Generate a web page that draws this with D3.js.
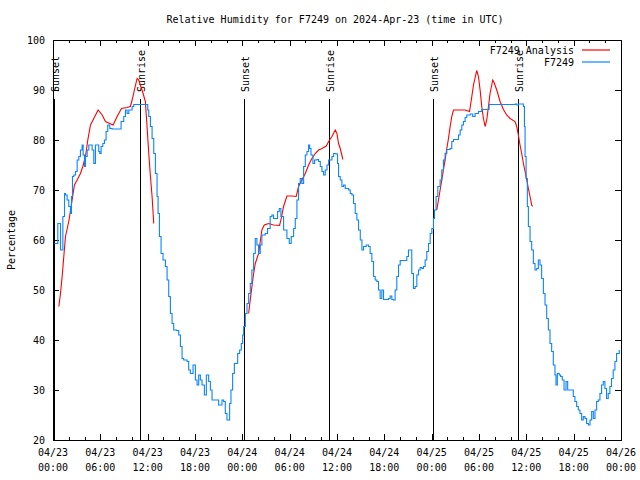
<!DOCTYPE html>
<html><head><meta charset="utf-8">
<script src="https://cdn.jsdelivr.net/npm/d3@7"></script>
<style>
body{margin:0;background:#fff;}
svg{display:block;}
text{font-family:"DejaVu Sans Mono",monospace;font-size:10px;fill:#000;}
</style></head>
<body>
<svg id="c" width="640" height="480"></svg>
<script>
const titleText = "Relative Humidity for F7249 on 2024-Apr-23 (time in UTC)";
const yLabel = "Percentage";
const startDate = Date.UTC(2024,3,23,0,0);
const endDate = Date.UTC(2024,3,26,0,0);
const yTicks = [20,30,40,50,60,70,80,90,100];
const seriesNames = ["F7249 Analysis","F7249"];
const seriesColors = ["#ff0000","#0a84ff"];
const sunLabels = ["Sunset","Sunrise","Sunset","Sunrise","Sunset","Sunrise"];
const sunHours = [0.15,10.99,24.17,34.93,48.23,58.97];

// F7249 observations (hours since 04/23 00:00 UTC, %)
const obsHours = [0.19,0.61,0.95,1.25,1.46,1.58,1.79,2.0,2.22,2.34,2.47,2.64,2.85,3.06,3.27,3.48,3.69,3.82,3.99,4.12,4.33,4.54,4.75,4.96,5.17,5.38,5.59,5.8,5.93,6.1,6.31,6.52,6.73,6.94,7.2,7.49,8.46,8.63,8.97,9.18,9.39,9.61,10.03,10.24,11.92,12.01,12.14,12.35,12.56,12.77,12.98,13.19,13.32,13.49,13.7,13.95,14.25,14.46,14.67,14.88,15.09,15.3,15.64,15.94,16.15,16.36,16.57,16.99,17.2,17.41,17.75,18.05,18.26,18.47,18.68,18.89,19.19,19.44,19.73,19.95,20.16,20.58,21.0,21.42,21.63,21.84,22.05,22.26,22.39,22.56,22.77,22.99,23.24,23.41,23.66,23.87,24.04,24.17,24.38,24.59,24.8,25.01,25.21,25.43,25.64,25.85,26.06,26.27,26.48,26.9,27.2,27.53,27.75,27.96,28.17,28.47,28.68,28.89,29.23,29.65,29.95,30.2,30.5,30.71,30.92,31.13,31.34,31.55,31.77,31.98,32.19,32.4,32.53,32.7,32.95,33.16,33.46,33.67,33.88,34.09,34.3,34.51,34.73,34.94,35.15,35.36,35.57,35.86,36.07,36.2,36.41,36.62,36.83,37.04,37.47,37.68,37.89,38.1,38.31,38.52,38.73,38.95,39.16,39.37,39.7,40.0,40.2,40.42,40.63,40.84,41.05,41.26,41.47,41.68,41.9,42.32,42.53,42.74,42.95,43.16,43.37,43.58,43.8,44.01,44.64,44.85,45.06,45.27,45.48,45.69,45.9,46.12,46.33,46.54,46.75,46.96,47.17,47.38,47.6,47.81,48.02,48.23,48.35,48.56,48.78,49.07,49.28,49.49,49.7,49.92,50.34,50.55,50.76,51.18,51.4,51.61,51.82,52.03,52.24,52.45,52.88,53.2,53.5,53.93,54.35,54.98,55.28,58.58,58.79,59.0,59.42,59.63,59.76,59.84,59.97,60.13,60.26,60.47,60.68,60.89,61.1,61.31,61.52,61.73,61.94,62.16,62.37,62.58,62.79,63.0,63.21,63.42,63.63,63.76,63.93,64.18,64.35,64.56,64.78,65.03,65.24,65.74,65.95,66.16,66.38,66.59,66.8,67.01,67.22,67.43,67.64,67.86,68.07,68.28,68.49,68.7,68.91,69.12,69.33,69.54,69.75,69.96,70.17,70.38,70.59,70.8,71.01,71.23,71.44,71.78];
const obsValues = [59.3,63.3,58,64.7,69.3,69,68,66.7,65.3,68.7,72.7,73,73.7,76,76.7,78,79,77,74.7,76.7,78,79,79,78,75.3,79,79,77.7,77.3,78.7,79.3,80,81.7,83,82.3,82.2,82.2,83.7,84.7,86,85.3,86,86.7,87.1,87.1,86,84.7,82.7,80.3,77.3,73.3,68.7,65.3,60.7,57.3,56,54.7,52,48.7,45.3,43.3,42,41.9,41,38.7,36.3,36,35.7,34,33.3,35,32,31,33,32,31,29,33,31.7,30,28,28,27,28,27.7,25.3,24,24,27.3,30,33.3,35.3,35.3,37.3,38,39.3,41,42.7,45.3,47.3,49.3,51.3,54,57.3,60.3,59,57.3,59,61,61.3,62.3,64.7,65,64.3,64.3,65.7,66.3,64.7,62,60.3,59.3,60.7,62.3,64.3,68,71.3,72.3,71.3,74.7,77,77.7,79,78.3,77,75.3,76,76.1,75.7,74.7,73.7,73,74,75,76,76,76.7,77.3,77.2,75.3,72.7,72,70.7,71,70.3,70,69.3,69,67.3,65.3,64,62,60,58,58.7,59,58.7,57.3,55.7,52.7,52,51.7,50,48.3,50,48.1,48.1,48.3,48.8,48.1,48,50,52.7,55,55.9,55.9,56.7,58,58,53.3,50.3,50.7,53,54,54.5,54.3,54.7,56,57.7,59.3,61.3,62.3,64.3,66,68.7,70.7,72,74,76,77.3,78.1,78.3,79.7,80.1,80.1,81,82,83,83.7,84.5,85,85.2,84.7,85.3,85.7,86.1,86.1,87.1,87.2,87,87.2,87.2,86.7,82.7,76.7,72.3,66.7,62.7,59.7,58,55.3,54,54.3,56,55,52.3,49.3,47,44.3,42,39.3,37.7,35,33,31,33.3,33,32.7,32,30,31.7,30,30,28.7,27.7,26.7,26,25.3,24,24.7,24.3,23.3,23,24,25.7,24.3,26,27.7,28,29.3,31,31.7,30.3,28.3,29.3,30.7,32.3,34,35.7,37.3,38];

// F7249 Analysis (null = gap)
const anaHours = [0.74,0.95,1.16,1.37,1.58,2.0,2.3,2.55,2.72,3.06,3.48,3.78,4.12,4.41,4.75,5.17,5.72,6.23,6.65,7.2,7.62,8.13,8.68,9.39,9.81,10.03,10.32,10.66,10.87,11.08,11.42,11.71,11.92,12.14,12.35,12.56,12.77,
 18,
 24.8,25.0,25.22,25.43,25.64,26.06,26.27,26.48,26.78,27.33,27.96,28.72,28.89,29.23,29.65,30.28,30.83,31.13,31.55,31.98,32.4,32.82,33.24,33.67,34.09,34.64,34.94,35.36,35.78,35.99,36.2,36.41,36.75,
 42,
 48.65,48.86,49.07,49.28,49.49,49.7,49.92,50.13,50.34,50.55,50.76,52.24,52.8,53.09,53.3,53.71,53.93,54.14,54.35,54.56,54.77,54.98,55.2,55.4,55.74,55.91,56.25,56.67,57.1,57.51,57.94,58.57,58.78,58.99,59.2,59.41,59.63,59.84,60.05,60.26,60.47,60.68,60.8];
const anaValues = [46.7,49.3,52.7,56.7,60.7,63.7,66.7,69.3,71,72,73.3,74.7,76.7,80,83,84.3,86,85,83.7,83.3,83,84.7,86.3,86.5,86.7,88,90,92.3,92,91,89.3,87.7,82.7,77.3,72.7,68.7,63.3,
 null,
 45.3,48,50.7,53.3,55.3,57.3,59.7,62,63,63.3,63,62.9,64,66.7,68.8,68.8,68.7,70.7,72,73.3,75,76.3,77.3,78,78.3,78.8,79.7,80.7,82,81.3,79.3,78.3,76.1,
 null,
 66,68,70,72,74,76,78.3,80.3,82.7,84.7,86,86,85.7,88.7,91,93.9,92.7,90,86.7,84.3,82.7,84,86.7,89.3,92,91.5,90,87.7,86.1,85,84.3,83.7,82.7,81,79,77.3,75.3,73.7,72,70.3,68.7,67,66.7];

const L=53, R=621, T=40, B=440;
const svg = d3.select("#c");
const toDate = h => new Date(startDate + h*3600e3);
const x = d3.scaleUtc().domain([new Date(startDate), new Date(endDate)]).range([L,R]);
const y = d3.scaleLinear().domain([20,100]).range([B,T]);

svg.append("text").attr("x",335).attr("y",23).attr("text-anchor","middle").text(titleText);
svg.append("text").attr("transform","translate(15,240) rotate(-90)").attr("text-anchor","middle").text(yLabel);

const crisp = g => g.attr("shape-rendering","crispEdges").call(g=>g.select(".domain").remove()).call(g=>g.selectAll("line").attr("stroke","#000"));

svg.append("g").attr("transform",`translate(0,${B})`).call(d3.axisBottom(x).ticks(d3.utcHour.every(2)).tickSize(-3).tickFormat(()=>"")).call(crisp);
svg.append("g").attr("transform",`translate(0,${T})`).call(d3.axisTop(x).ticks(d3.utcHour.every(2)).tickSize(-3).tickFormat(()=>"")).call(crisp);
svg.append("g").attr("transform",`translate(0,${B})`).call(d3.axisBottom(x).ticks(d3.utcHour.every(6)).tickSize(-6).tickFormat(()=>"")).call(crisp);
svg.append("g").attr("transform",`translate(0,${T})`).call(d3.axisTop(x).ticks(d3.utcHour.every(6)).tickSize(-6).tickFormat(()=>"")).call(crisp);
svg.append("g").attr("transform",`translate(${L},0)`).call(d3.axisLeft(y).tickValues(yTicks).tickSize(-6).tickFormat(()=>"")).call(crisp);
svg.append("g").attr("transform",`translate(${R},0)`).call(d3.axisRight(y).tickValues(yTicks).tickSize(-6).tickFormat(()=>"")).call(crisp);

svg.append("g").selectAll("text").data(yTicks).join("text")
  .attr("x",45).attr("y",d=>y(d)).attr("dy","0.35em").attr("text-anchor","end").text(d=>d);
const fmtDay = d3.utcFormat("%m/%d"), fmtTime = d3.utcFormat("%H:%M");
const xt = svg.append("g").selectAll("text").data(x.ticks(d3.utcHour.every(6))).join("text")
  .attr("text-anchor","middle");
xt.append("tspan").attr("x",d=>x(d)).attr("y",456).text(fmtDay);
xt.append("tspan").attr("x",d=>x(d)).attr("y",471).text(fmtTime);

const sun = svg.append("g");
sunHours.forEach((h,i)=>{
  const xx = Math.round(x(toDate(h)))+0.5;
  sun.append("line").attr("x1",xx).attr("x2",xx).attr("y1",99).attr("y2",B).attr("stroke","#000").attr("shape-rendering","crispEdges");
  sun.append("text").attr("transform",`translate(${xx+0.5},92) rotate(-90)`).attr("dominant-baseline","central").text(sunLabels[i]);
});

const obs = obsHours.map((h,i)=>({d:toDate(h),v:obsValues[i]}));
const ana = anaHours.map((h,i)=>({d:toDate(h),v:anaValues[i]}));
const lineStep = d3.line().x(p=>x(p.d)).y(p=>y(p.v)).curve(d3.curveStepAfter);
const lineLin = d3.line().defined(p=>p.v!==null).x(p=>x(p.d)).y(p=>y(p.v));
svg.append("path").datum(ana).attr("d",lineLin).attr("fill","none").attr("stroke",seriesColors[0]).attr("stroke-width",1.1);
svg.append("path").datum(obs).attr("d",lineStep).attr("fill","none").attr("stroke",seriesColors[1]).attr("stroke-width",1.1);

svg.append("rect").attr("x",L+0.5).attr("y",T+0.5).attr("width",R-L).attr("height",B-T)
  .attr("fill","none").attr("stroke","#000").attr("shape-rendering","crispEdges");

const lg = svg.append("g");
seriesNames.forEach((n,i)=>{
  const yy = 50 + i*12;
  lg.append("text").attr("x",574).attr("y",yy).attr("dy","0.35em").attr("text-anchor","end").text(n);
  lg.append("line").attr("x1",582).attr("x2",610).attr("y1",yy).attr("y2",yy).attr("stroke",seriesColors[i]).attr("stroke-width",1.2);
});
</script>
</body></html>
